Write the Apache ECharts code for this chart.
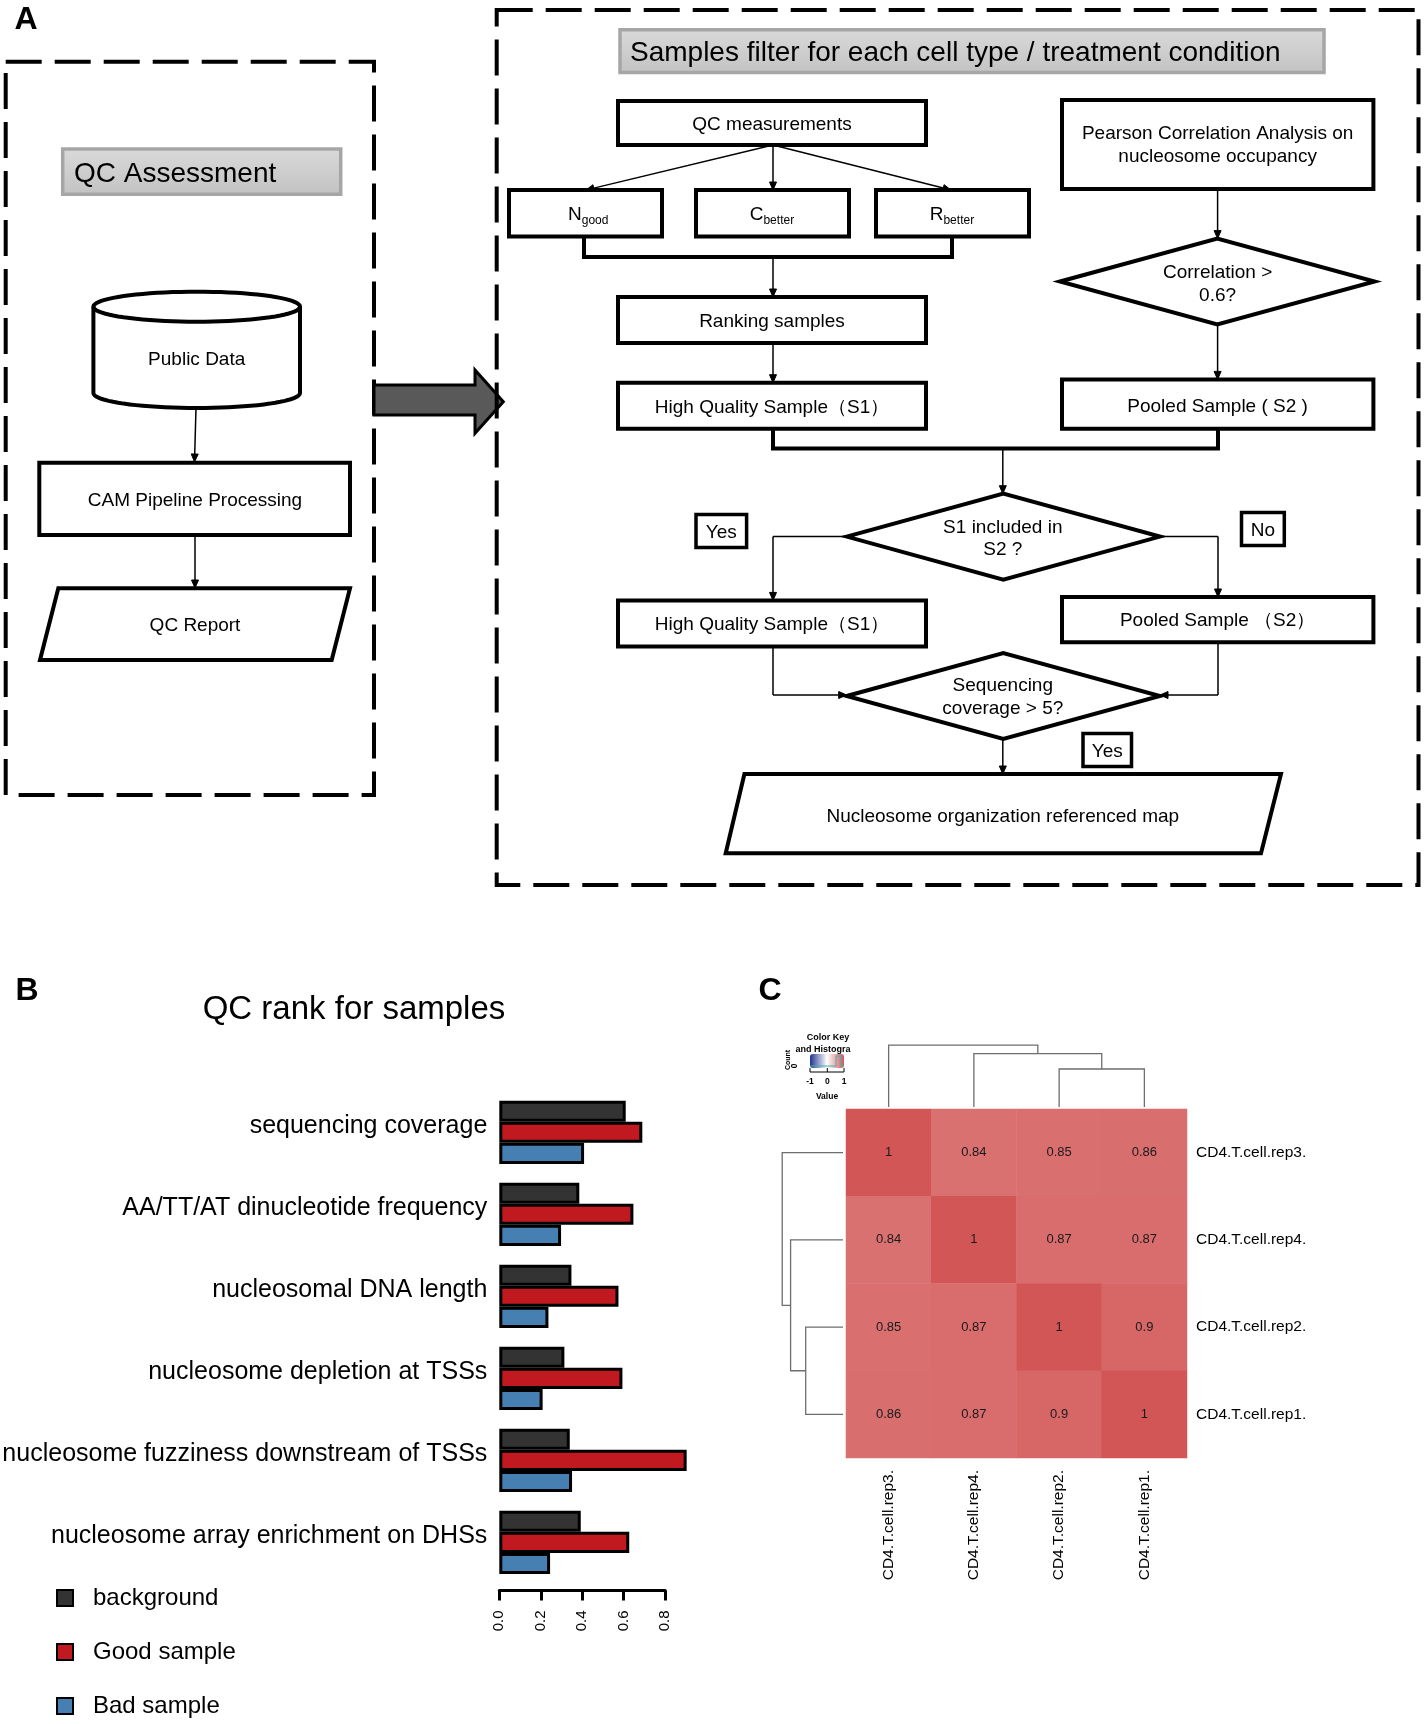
<!DOCTYPE html>
<html><head><meta charset="utf-8">
<script src="https://cdn.jsdelivr.net/npm/echarts/dist/echarts.min.js"></script>
<style>html,body{margin:0;padding:0;background:#fff}#chart{width:1424px;height:1724px}</style>
</head><body><div id="chart"></div>
<script>
// ---------------- DATA ----------------
const qcCategories = ['sequencing coverage','AA/TT/AT dinucleotide frequency','nucleosomal DNA length','nucleosome depletion at TSSs','nucleosome fuzziness downstream of TSSs','nucleosome array enrichment on DHSs'];
const backgroundValues = [0.610, 0.386, 0.348, 0.314, 0.340, 0.393];
const goodValues       = [0.690, 0.647, 0.575, 0.594, 0.904, 0.627];
const badValues        = [0.409, 0.298, 0.237, 0.209, 0.351, 0.245];
const seriesNames = ['background','Good sample','Bad sample'];
const xTickMin = 0, xTickMax = 0.8, xTickStep = 0.2;

const sampleNames = ['CD4.T.cell.rep3.','CD4.T.cell.rep4.','CD4.T.cell.rep2.','CD4.T.cell.rep1.'];
const corrRow1 = [1, 0.84, 0.85, 0.86];
const corrRow2 = [0.84, 1, 0.87, 0.87];
const corrRow3 = [0.85, 0.87, 1, 0.9];
const corrRow4 = [0.86, 0.87, 0.9, 1];
const colorKeyTicks = ['-1','0','1'];
// dendrogram merges (hclust style: >=0 leaf index in display order, <0 earlier merge), height
const dendroMerges = [[2, 3, 0.100], [1, -1, 0.1405], [0, -2, 0.163]];

// ---------------- HELPERS ----------------
const FONT = '"Liberation Sans", Arial, Helvetica, sans-serif';
const corrRows = [corrRow1, corrRow2, corrRow3, corrRow4];
const heatData = [];
corrRows.forEach((row, r) => row.forEach((v, c) => heatData.push([c, r, v])));

function buildDendro(merges) {
  const pos = [], hs = [], items = [];
  merges.forEach(m => {
    const get = id => id >= 0 ? [id + 0.5, 0] : [pos[-id - 1], hs[-id - 1]];
    const a = get(m[0]), b = get(m[1]);
    items.push([a[0], a[1], b[0], b[1], m[2]]);
    pos.push((a[0] + b[0]) / 2); hs.push(m[2]);
  });
  return items;
}
const dendroItems = buildDendro(dendroMerges);

const els = [];
let TY = 2;
function rect(x1, y1, x2, y2, st) {
  els.push({type: 'rect', shape: {x: x1, y: y1, width: x2 - x1, height: y2 - y1},
    style: Object.assign({fill: '#fff', stroke: '#000', lineWidth: 4}, st || {})});
}
function txt(x, y, t, size, st, extra) {
  els.push(Object.assign({type: 'text', style: Object.assign({text: t, x: x, y: y + TY, fontSize: size, fontFamily: FONT,
    fill: '#000', align: 'center', verticalAlign: 'middle'}, st || {})}, extra || {}));
}
function pline(points, w) {
  els.push({type: 'polyline', shape: {points: points}, style: {stroke: '#000', lineWidth: w, fill: null}});
}
function poly(points, st) {
  els.push({type: 'polygon', shape: {points: points}, style: Object.assign({fill: '#fff', stroke: '#000', lineWidth: 4}, st || {})});
}
function arrow(x1, y1, x2, y2) {
  const dx = x2 - x1, dy = y2 - y1, L = Math.hypot(dx, dy), ux = dx / L, uy = dy / L;
  const hl = 8, hw = 3.5;
  const bx = x2 - ux * hl, by = y2 - uy * hl;
  pline([[x1, y1], [bx, by]], 1.5);
  poly([[x2, y2], [bx - uy * hw, by + ux * hw], [bx + uy * hw, by - ux * hw]], {fill: '#000', stroke: '#000', lineWidth: 1});
}
function diamond(cx, cy, hw, hh) { poly([[cx - hw, cy], [cx, cy - hh], [cx + hw, cy], [cx, cy + hh]]); }
function grayBox(x1, y1, x2, y2) {
  rect(x1, y1, x2, y2, {fill: new echarts.graphic.LinearGradient(0, 0, 0, 1, [{offset: 0, color: '#DADADA'}, {offset: 1, color: '#C2C2C2'}]),
    stroke: '#A6A6A6', lineWidth: 3.5});
}
function subText(cx, cy, main, sub) {
  const mw = 13.7, sw = sub.length * 5.3;
  const x0 = cx - (mw + sw) / 2;
  txt(x0, cy, main, 19, {align: 'left'});
  txt(x0 + mw, cy + 6, sub, 12, {align: 'left'});
}
const dash = {fill: null, lineDash: [36, 13], lineWidth: 4};

// ----- Panel A : left -----
txt(26, 18, 'A', 32, {fontWeight: 'bold'});
rect(5.7, 61.7, 374, 795, dash);
grayBox(62.7, 149, 340.7, 194.3);
txt(74, 172, 'QC Assessment', 28, {align: 'left'});
(function cylinder(cx, rx, cyT, cyB, ry) {
  const pts = [];
  for (let i = 0; i <= 40; i++) { const a = Math.PI * i / 40; pts.push([cx - rx * Math.cos(a), cyB + ry * Math.sin(a)]); }
  for (let i = 0; i <= 40; i++) { const a = Math.PI * i / 40; pts.push([cx + rx * Math.cos(a), cyT - ry * Math.sin(a)]); }
  poly(pts);
  const arc = [];
  for (let i = 0; i <= 40; i++) { const a = Math.PI * i / 40; arc.push([cx - rx * Math.cos(a), cyT + ry * Math.sin(a)]); }
  pline(arc, 4);
})(196.7, 103.3, 306.7, 393, 15);
txt(196.7, 358, 'Public Data', 19);
arrow(196, 408, 194.5, 462);
rect(39.3, 462.7, 350, 535);
txt(195, 499, 'CAM Pipeline Processing', 19);
arrow(195, 535, 195, 588);
poly([[58.3, 588.3], [350, 588.3], [331.7, 660], [40, 660]]);
txt(195, 624, 'QC Report', 19);
poly([[374, 385], [475, 385], [475, 370], [503.3, 401.7], [475, 433.3], [475, 415], [374, 415]], {fill: '#595959', stroke: '#000', lineWidth: 3});

// ----- Panel A : right -----
rect(496.7, 10, 1418.5, 885, dash);
grayBox(620, 29.7, 1324, 72.6);
txt(630, 51, 'Samples filter for each cell type / treatment condition', 28, {align: 'left'});
rect(618, 101, 926, 145); txt(772, 123, 'QC measurements', 19);
arrow(773, 145, 586, 190); arrow(773, 145, 773, 190); arrow(773, 145, 951, 190);
rect(509, 190, 662, 236.4); subText(585.5, 213, 'N', 'good');
rect(696, 190, 849, 236.4); subText(772.5, 213, 'C', 'better');
rect(876, 190, 1029, 236.4); subText(952.5, 213, 'R', 'better');
pline([[584, 236.4], [584, 257], [952, 257], [952, 236.4]], 4);
arrow(773, 257, 773, 297);
rect(618, 297, 926, 343); txt(772, 320, 'Ranking samples', 19);
arrow(773, 343, 773, 382.7);
rect(618, 382.7, 926, 428.8); txt(772, 406, 'High Quality Sample（S1）', 19);
rect(1062, 100, 1373.4, 189);
txt(1217.6, 132, 'Pearson Correlation Analysis on', 19); txt(1217.6, 155, 'nucleosome occupancy', 19);
arrow(1217.6, 189, 1217.6, 238.6);
diamond(1217.3, 281.5, 157.3, 43);
txt(1217.6, 270.5, 'Correlation >', 19); txt(1217.6, 293.6, '0.6?', 19);
arrow(1217.6, 324.4, 1217.6, 379.4);
rect(1062, 379.4, 1373.4, 428.8); txt(1217.6, 404.6, 'Pooled Sample ( S2 )', 19);
pline([[773, 428.8], [773, 448.6], [1218, 448.6], [1218, 428.8]], 4);
arrow(1002.8, 448.6, 1002.8, 493.7);
diamond(1003.3, 536.6, 156.6, 43);
txt(1002.8, 525.6, 'S1 included in', 19); txt(1002.8, 547.6, 'S2 ?', 19);
rect(696, 514.6, 746.6, 547.6, {lineWidth: 3.5}); txt(721.3, 531, 'Yes', 19);
rect(1241.5, 512.4, 1284.3, 545.4, {lineWidth: 3.5}); txt(1263, 529, 'No', 19);
pline([[846.7, 536.6], [773, 536.6]], 1.5); arrow(773, 536.6, 773, 600.4);
pline([[1160, 536.6], [1218, 536.6]], 1.5); arrow(1218, 536.6, 1218, 597);
rect(618, 600.4, 926, 646.6); txt(772, 622.4, 'High Quality Sample（S1）', 19);
rect(1062, 597, 1373.4, 642.2); txt(1217.6, 619, 'Pooled Sample （S2）', 19);
pline([[773, 646.6], [773, 695]], 1.5); arrow(773, 695, 846.7, 695);
pline([[1218, 642.2], [1218, 695]], 1.5); arrow(1218, 695, 1160, 695);
diamond(1003.3, 696, 156.6, 43);
txt(1002.8, 684, 'Sequencing', 19); txt(1002.8, 707, 'coverage > 5?', 19);
rect(1083, 733.4, 1131.5, 766.4, {lineWidth: 3.5}); txt(1107.3, 750, 'Yes', 19);
arrow(1002.8, 739, 1002.8, 774);
poly([[744.4, 774], [1281, 774], [1261, 853.3], [725.7, 853.3]]);
txt(1002.8, 814.8, 'Nucleosome organization referenced map', 19);

// ----- Panel B / C texts -----
TY = 3.3;
txt(27, 988, 'B', 32, {fontWeight: 'bold'});
txt(354, 1007, 'QC rank for samples', 33);
txt(770, 988, 'C', 32, {fontWeight: 'bold'});
TY = 0;
// color key annotations
txt(828, 1037.5, 'Color Key', 9, {fontWeight: 'bold'});
txt(823, 1049.5, 'and Histogra', 9, {fontWeight: 'bold'});
[810, 827.3, 844].forEach((x, i) => {
  txt(x, 1082, colorKeyTicks[i], 8.5, {fontWeight: 'bold'});
  pline([[x, 1068], [x, 1072]], 1);
});
pline([[810, 1072], [844, 1072]], 1);
txt(827, 1097, 'Value', 8.5, {fontWeight: 'bold'});
els.push({type: 'text', x: 788, y: 1060, rotation: Math.PI / 2,
  style: {text: 'Count', fontSize: 7, fontWeight: 'bold', fontFamily: FONT, fill: '#000', align: 'center', verticalAlign: 'middle'}});
els.push({type: 'text', x: 795, y: 1066, rotation: Math.PI / 2,
  style: {text: '0', fontSize: 8.5, fontWeight: 'bold', fontFamily: FONT, fill: '#000', align: 'center', verticalAlign: 'middle'}});
els.push({type: 'polyline', z: 100, shape: {points: [[810, 1066], [836, 1066], [836, 1056], [841, 1056], [841, 1066], [844, 1066]]}, style: {stroke: '#39B5B5', lineWidth: 1, fill: null}});

// ---------------- CHART ----------------
const chart = echarts.init(document.getElementById('chart'), null, {renderer: 'canvas', width: 1424, height: 1724});
const barStyle = c => ({color: c, borderColor: '#000', borderWidth: 3});
const noAxis = {axisLine: {show: false}, axisTick: {show: false}, splitLine: {show: false}};

chart.setOption({
  animation: false,
  textStyle: {fontFamily: FONT},
  grid: [
    {left: 499.3, top: 1091.3, width: 165.8, height: 492.1, containLabel: false, outerBoundsMode: 'none'},
    {left: 846, top: 1109, width: 341, height: 349, containLabel: false, outerBoundsMode: 'none'},
    {left: 846, top: 1031, width: 341, height: 76, containLabel: false, outerBoundsMode: 'none'},
    {left: 768.4, top: 1109, width: 74.6, height: 349, containLabel: false, outerBoundsMode: 'none'}
  ],
  xAxis: [
    {type: 'value', gridIndex: 0, min: xTickMin, max: xTickMax, interval: xTickStep, position: 'bottom', offset: 7,
      axisLine: {show: true, lineStyle: {color: '#000', width: 3}},
      axisTick: {show: true, length: 10, lineStyle: {color: '#000', width: 3}},
      splitLine: {show: false},
      axisLabel: {rotate: 90, fontSize: 15, color: '#000', margin: 20, formatter: v => v.toFixed(1)}},
    Object.assign({type: 'category', gridIndex: 1, data: sampleNames, position: 'bottom',
      axisLabel: {rotate: 90, fontSize: 15.5, color: '#000', margin: 12}}, noAxis),
    Object.assign({type: 'value', gridIndex: 2, min: 0, max: 4, show: false}, noAxis),
    Object.assign({type: 'value', gridIndex: 3, min: 0, max: 0.2, inverse: true, show: false}, noAxis)
  ],
  yAxis: [
    Object.assign({type: 'category', gridIndex: 0, data: qcCategories, inverse: true,
      axisLabel: {fontSize: 25, color: '#000', margin: 12, verticalAlign: 'bottom', lineHeight: 13}}, noAxis),
    Object.assign({type: 'category', gridIndex: 1, data: sampleNames, inverse: true, position: 'right',
      axisLabel: {fontSize: 15.5, color: '#000', margin: 9}}, noAxis),
    Object.assign({type: 'value', gridIndex: 2, min: 0, max: 0.2, show: false}, noAxis),
    Object.assign({type: 'value', gridIndex: 3, min: 0, max: 4, inverse: true, show: false}, noAxis)
  ],
  legend: {
    data: seriesNames, orient: 'vertical', left: 56, top: 1585, height: 139, padding: 0, icon: 'rect',
    itemWidth: 16, itemHeight: 16, itemGap: 28, selectedMode: false,
    itemStyle: {borderColor: '#000', borderWidth: 2},
    textStyle: {fontSize: 24, color: '#000', lineHeight: 26, padding: [0, 0, 0, 15]}
  },
  visualMap: {
    type: 'continuous', min: -1, max: 1, seriesIndex: 3, orient: 'horizontal',
    left: 805, top: 1049, itemWidth: 14, itemHeight: 34, calculable: false, hoverLink: false,
    text: null, showLabel: false, padding: 5,
    inRange: {color: ['#22338C', '#FFFFFF', '#D35656']}
  },
  series: [
    {name: seriesNames[0], type: 'bar', xAxisIndex: 0, yAxisIndex: 0, data: backgroundValues, barGap: '0%', barCategoryGap: '23%', clip: false, itemStyle: barStyle('#333333')},
    {name: seriesNames[1], type: 'bar', xAxisIndex: 0, yAxisIndex: 0, data: goodValues, barGap: '0%', barCategoryGap: '23%', clip: false, itemStyle: barStyle('#C01A20')},
    {name: seriesNames[2], type: 'bar', xAxisIndex: 0, yAxisIndex: 0, data: badValues, barGap: '0%', barCategoryGap: '23%', clip: false, itemStyle: barStyle('#467FB2')},
    {type: 'heatmap', xAxisIndex: 1, yAxisIndex: 1, data: heatData,
      label: {show: true, fontSize: 13, color: '#1a1a1a', formatter: p => String(p.value[2])},
      itemStyle: {borderWidth: 0}},
    {type: 'custom', xAxisIndex: 2, yAxisIndex: 2, data: dendroItems, silent: true,
      renderItem: (params, api) => ({type: 'polyline', shape: {points: [
        api.coord([api.value(0), api.value(1)]), api.coord([api.value(0), api.value(4)]),
        api.coord([api.value(2), api.value(4)]), api.coord([api.value(2), api.value(3)])]},
        style: {stroke: '#6E6E6E', lineWidth: 1.3, fill: null}})},
    {type: 'custom', xAxisIndex: 3, yAxisIndex: 3, data: dendroItems, silent: true,
      encode: {x: 1, y: 0},
      renderItem: (params, api) => ({type: 'polyline', shape: {points: [
        api.coord([api.value(1), api.value(0)]), api.coord([api.value(4), api.value(0)]),
        api.coord([api.value(4), api.value(2)]), api.coord([api.value(3), api.value(2)])]},
        style: {stroke: '#6E6E6E', lineWidth: 1.3, fill: null}})}
  ],
  graphic: {elements: els}
});
</script></body></html>
